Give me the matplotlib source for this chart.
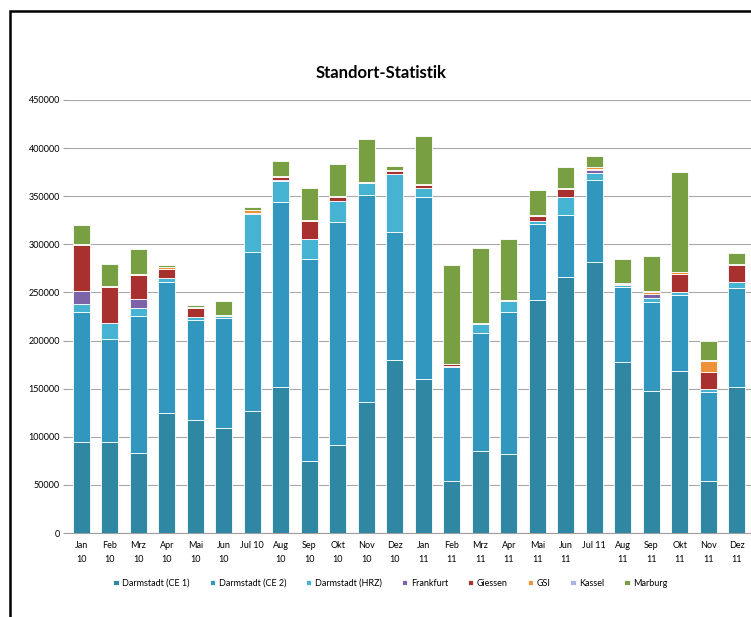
import numpy as np
import matplotlib.pyplot as plt
from matplotlib.patches import Rectangle

plt.rcParams['font.family'] = ['Lato', 'DejaVu Sans']

months = ['Jan\n10', 'Feb\n10', 'Mrz\n10', 'Apr\n10', 'Mai\n10', 'Jun\n10', 'Jul 10',
          'Aug\n10', 'Sep\n10', 'Okt\n10', 'Nov\n10', 'Dez\n10',
          'Jan\n11', 'Feb\n11', 'Mrz\n11', 'Apr\n11', 'Mai\n11', 'Jun\n11', 'Jul 11',
          'Aug\n11', 'Sep\n11', 'Okt\n11', 'Nov\n11', 'Dez\n11']

ce1 = [95000, 95000, 83000, 125000, 117000, 109000, 127000, 152000, 75000, 91000, 136000, 180000,
       160000, 54000, 85000, 82000, 242000, 266000, 282000, 178000, 148000, 168000, 54000, 152000]
ce2 = [135000, 107000, 143000, 136000, 104000, 114000, 165000, 192000, 210000, 232000, 215000, 133000,
       189000, 118000, 123000, 148000, 79000, 64000, 85000, 78000, 92000, 79000, 93000, 103000]
hrz = [8000, 16000, 8000, 4000, 3000, 3000, 40000, 22000, 21000, 22000, 13000, 60000,
       9000, 2000, 9000, 11000, 3000, 19000, 7000, 2000, 4000, 3000, 3000, 6000]
frankfurt = [14000, 0, 9000, 0, 0, 0, 0, 1000, 0, 0, 0, 0,
             0, 0, 0, 0, 0, 0, 3000, 0, 4000, 0, 0, 0]
giessen = [47000, 38000, 25000, 9000, 10000, 0, 1000, 3000, 18000, 4000, 0, 3000,
           4000, 1500, 0, 0, 5000, 8000, 1000, 1000, 0, 19000, 17000, 18000]
gsi = [1500, 1000, 1500, 2000, 1000, 1000, 2500, 1500, 1500, 1000, 1000, 1000,
       1000, 500, 1000, 1000, 1500, 2000, 2000, 1000, 2000, 2000, 12000, 1000]
kassel = [0, 0, 0, 0, 0, 0, 0, 0, 0, 0, 0, 0,
          0, 0, 0, 0, 0, 0, 0, 0, 1000, 0, 500, 0]
marburg = [20000, 23000, 25500, 3000, 2000, 14000, 3500, 15000, 32500, 33000, 44000, 4000,
           50000, 103000, 78000, 63000, 25500, 21500, 11500, 25000, 37000, 104000, 20000, 10500]

series = [('Darmstadt (CE 1)', ce1, '#2f87a3'),
          ('Darmstadt (CE 2)', ce2, '#3297be'),
          ('Darmstadt (HRZ)', hrz, '#46b3d3'),
          ('Frankfurt', frankfurt, '#7d63a8'),
          ('Giessen', giessen, '#a8302f'),
          ('GSI', gsi, '#ee9238'),
          ('Kassel', kassel, '#aab4e2'),
          ('Marburg', marburg, '#78a042')]

fig = plt.figure(figsize=(7.51, 6.17), dpi=100)
ax = fig.add_axes([0.0892, 0.1361, 0.9108, 0.7019])

x = np.arange(len(months))
bottom = np.zeros(len(months))
for name, vals, col in series:
    vals = np.array(vals, dtype=float)
    ax.bar(x, vals, 0.6, bottom=bottom, color=col, edgecolor='white',
           linewidth=0.6, label=name, zorder=3)
    bottom += vals

ax.set_xlim(-0.5, len(months) - 0.5)
ax.set_ylim(0, 450000)
ax.set_yticks(np.arange(0, 450001, 50000))
ax.set_yticklabels([str(v) for v in range(0, 450001, 50000)], fontsize=6.5)
ax.set_xticks(x)
ax.set_xticklabels(months, fontsize=6.5, linespacing=1.6)
ax.tick_params(axis='y', length=3, color='#a0a0a0', pad=2)
ax.tick_params(axis='x', length=0, pad=6)
ax.grid(axis='y', color='#a8a8a8', linewidth=0.8, zorder=0)
for s in ['top', 'right', 'left']:
    ax.spines[s].set_visible(False)
ax.spines['bottom'].set_color('#a0a0a0')

fig.text(0.507, 0.882, 'Standort-Statistik', ha='center', va='center',
         fontsize=12, fontweight='bold')

fig.legend(loc='center', bbox_to_anchor=(0.52, 0.055), ncol=8, fontsize=6.5,
           frameon=False, handlelength=0.6, handleheight=0.6, columnspacing=2.2,
           handletextpad=0.4)

# black frame around the chart (runs off the right and bottom edge)
fig.add_artist(Rectangle((10 / 751, -0.1), 1.2, 1 - 11 / 617 + 0.1, transform=fig.transFigure,
                         fill=False, edgecolor='black', linewidth=1.8))

fig.savefig('out.png', dpi=100)
